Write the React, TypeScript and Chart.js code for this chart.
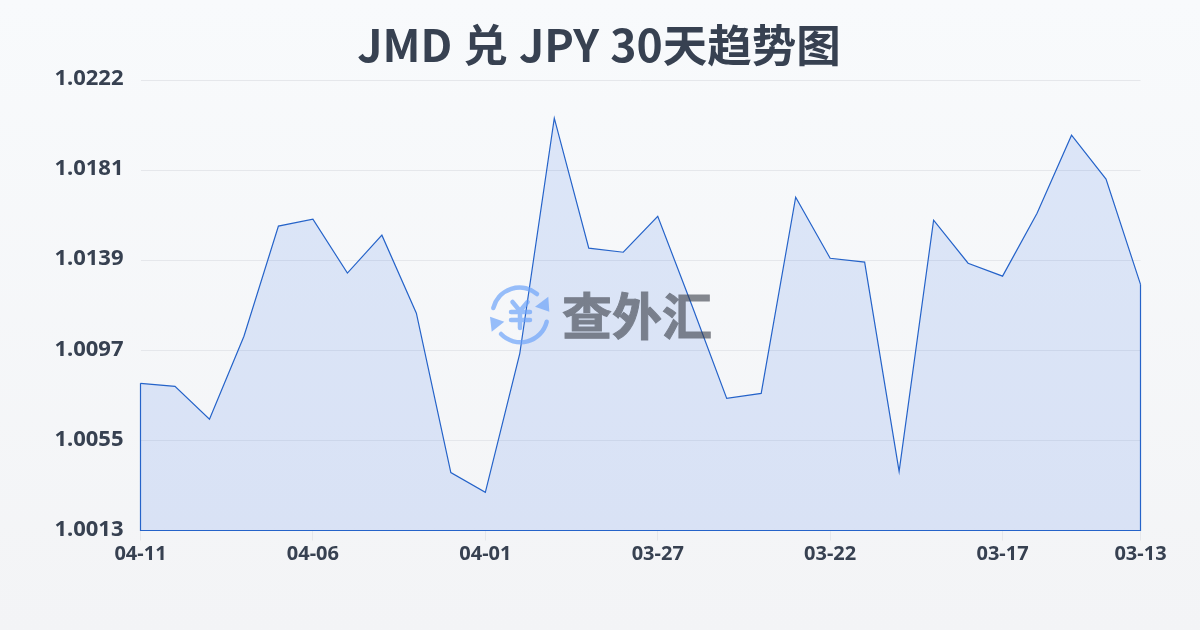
import React, { useEffect, useRef } from "react";
import { Chart, registerables } from "chart.js";

Chart.register(...registerables);

const title = "JMD 兑 JPY 30天趋势图";
const watermark = "查外汇";
const categories = ["04-11","04-10","04-09","04-08","04-07","04-06","04-05","04-04","04-03","04-02","04-01","03-31","03-30","03-29","03-28","03-27","03-26","03-25","03-24","03-23","03-22","03-21","03-20","03-19","03-18","03-17","03-16","03-15","03-14","03-13"];
const rates = [1.00813,1.00799,1.00646,1.01031,1.01542,1.01574,1.01324,1.015,1.01138,1.00399,1.00307,1.00952,1.02043,1.0144,1.01421,1.01588,1.0117,1.00743,1.00766,1.01676,1.01393,1.01375,1.00404,1.0157,1.0137,1.0131,1.01602,1.01964,1.0176,1.01272];
const yTickLabels = ["1.0013","1.0055","1.0097","1.0139","1.0181","1.0222"];
const yMin = 1.0013;
const yMax = 1.0222;

const titleFont = '"Noto Sans CJK SC", "Noto Sans", sans-serif';
const fontFamily = '"Noto Sans", "Noto Sans CJK SC", sans-serif';
const textColor = "#374151";
const lineColor = "#2563c9";

export default function App() {
  const ref = useRef<HTMLCanvasElement>(null);
  useEffect(() => {
    document.body.style.margin = "0";
    const chart = new Chart(ref.current!, {
      type: "line",
      data: {
        labels: categories,
        datasets: [{
          data: rates,
          borderColor: lineColor,
          borderWidth: 1.2,
          backgroundColor: "rgba(37,99,235,0.13)",
          fill: "start",
          pointRadius: 0,
          tension: 0,
        }],
      },
      options: {
        animation: false,
        responsive: false,
        layout: { padding: { top: 80, left: 0, right: 59.5, bottom: 0 } },
        plugins: {
          legend: { display: false },
          tooltip: { enabled: false },
          title: { display: false },
        },
        scales: {
          x: {
            offset: false,
            afterFit(s: any) { s.height = 99.5; },
            afterBuildTicks(s: any) {
              s.ticks = categories.map((_c, i) => i).filter((i) => i % 5 === 0 || i === categories.length - 1).map((value) => ({ value }));
            },
            grid: { display: true, drawOnChartArea: false, color: "#e5e7eb", tickLength: 10 },
            border: { display: false },
            ticks: {
              autoSkip: false,
              maxRotation: 0,
              padding: 2,
              color: textColor,
              font: { family: fontFamily, size: 20, weight: "bold" },
              callback(v: any) { return categories[v]; },
            },
          },
          y: {
            min: yMin,
            max: yMax,
            afterFit(s: any) { s.width = 140.5; },
            afterBuildTicks(s: any) {
              s.ticks = yTickLabels.map((_l, i) => ({ value: yMin + ((yMax - yMin) * i) / (yTickLabels.length - 1) }));
            },
            grid: { color: "#e5e7eb", lineWidth: 1, drawTicks: false },
            border: { display: false },
            ticks: {
              padding: 17,
              labelOffset: -1,
              color: textColor,
              font: { family: fontFamily, size: 22, weight: "bold" },
              callback(_v: any, i: number) { return yTickLabels[i]; },
            },
          },
        },
      },
      plugins: [{
        id: "closedOutline",
        afterDatasetsDraw(c: any) {
          const g = c.ctx;
          const { x, y } = c.scales;
          const last = categories.length - 1;
          g.save();
          g.strokeStyle = lineColor;
          g.lineWidth = 1.2;
          g.beginPath();
          g.moveTo(x.getPixelForValue(0), y.getPixelForValue(rates[0]));
          g.lineTo(x.getPixelForValue(0), y.getPixelForValue(yMin));
          g.lineTo(x.getPixelForValue(last), y.getPixelForValue(yMin));
          g.lineTo(x.getPixelForValue(last), y.getPixelForValue(rates[last]));
          g.stroke();
          g.restore();
        },
      }, {
        id: "titlePlugin",
        afterDraw(c: any) {
          const g = c.ctx;
          g.save();
          g.fillStyle = textColor;
          g.font = `bold 44.5px ${titleFont}`;
          g.wordSpacing = "1px";
          g.textAlign = "center";
          g.textBaseline = "middle";
          g.fillText(title, 599, 45);
          g.restore();
        },
      }],
    } as any);
    return () => chart.destroy();
  }, []);

  return (
    <div style={{ position: "relative", width: 1200, height: 630, background: "linear-gradient(180deg,#f8fafc,#f3f4f6)", overflow: "hidden" }}>
      <canvas ref={ref} width={1200} height={630} style={{ position: "absolute", left: 0, top: 0, display: "block" }} />
      <svg width="70" height="70" viewBox="0 0 70 70" style={{ position: "absolute", left: 485, top: 280, opacity: 0.7 }}>
        <g fill="none" stroke="#6ea4fa" strokeWidth="4.5" strokeLinecap="round">
          <path d="M8.3 28 A27 27 0 0 1 52 14" />
          <path d="M61.7 41.7 A27 27 0 0 1 16 54" />
          <path d="M27.5 22 L35 31 L42.5 22 M35 31 V48 M26 32 H45 M26 40 H45" />
        </g>
        <path d="M63.3 16.7 L64.3 31.7 L50 26.7 Z M5 36.7 L19.3 41.7 L6.7 51.7 Z" fill="#6ea4fa" />
      </svg>
      <div style={{ position: "absolute", left: 562, top: 275, fontFamily: titleFont, fontWeight: 700, fontSize: 50, lineHeight: "76px", color: "#373c46", opacity: 0.6, WebkitTextStroke: "1px #373c46", whiteSpace: "nowrap" }}>{watermark}</div>
    </div>
  );
}
